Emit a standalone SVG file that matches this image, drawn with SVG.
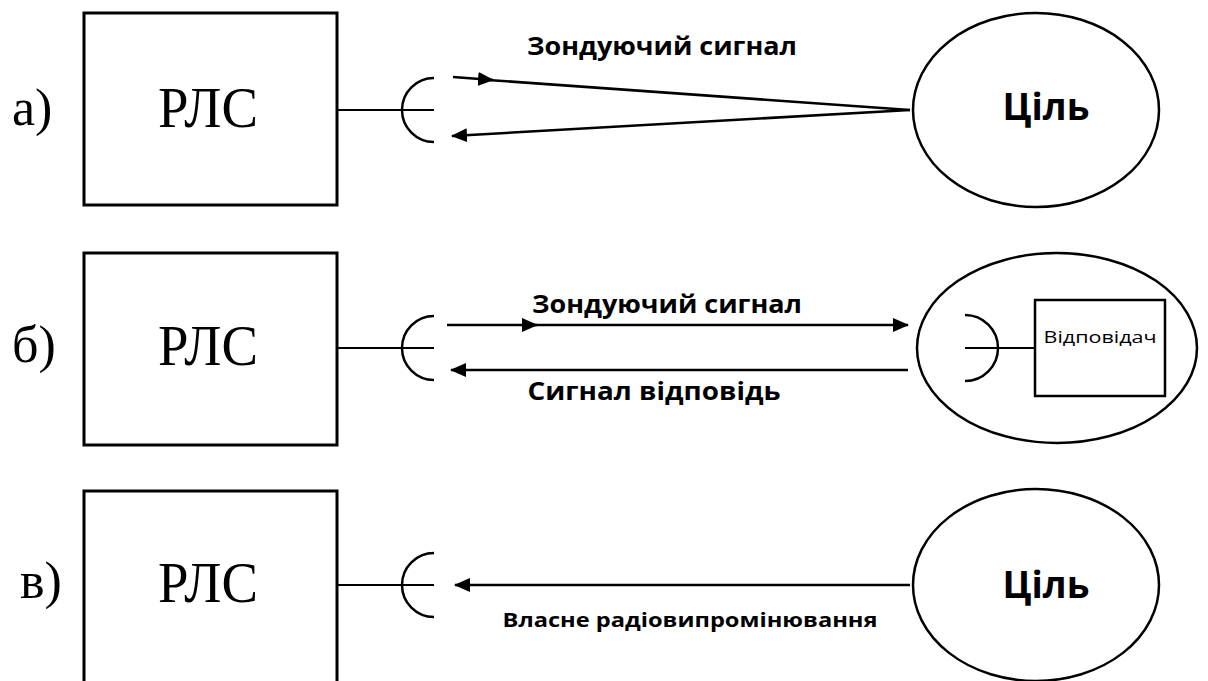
<svg xmlns="http://www.w3.org/2000/svg" width="1208" height="681" viewBox="0 0 1208 681">
<defs>
<marker id="ahe" viewBox="0 0 16 14" refX="15" refY="7" markerWidth="16" markerHeight="14" markerUnits="userSpaceOnUse" orient="auto"><path d="M0,0 L16,7 L0,14 z" fill="#000"/></marker>
</defs>
<style>
.box{fill:#fff;stroke:#000;stroke-width:3}
.ln{fill:none;stroke:#000;stroke-width:2}
.sl{fill:none;stroke:#000;stroke-width:2.6}
.ant{fill:none;stroke:#000;stroke-width:2.5}
.rls{font-family:"Liberation Serif",serif;font-size:56px;text-anchor:middle;fill:#000}
.lab{font-family:"Liberation Serif",serif;font-size:52px;fill:#000}
.sig{font-family:"Open Sans","DejaVu Sans",sans-serif;font-weight:bold;font-size:25px;text-anchor:middle;fill:#000}
.tgt{font-family:"Open Sans","DejaVu Sans",sans-serif;font-weight:bold;font-size:37px;text-anchor:middle;fill:#000}
.small{font-family:"Open Sans","DejaVu Sans",sans-serif;font-size:17px;text-anchor:middle;fill:#000}
.ell{fill:#fff;stroke:#000;stroke-width:2.5}
</style>
<rect width="1208" height="681" fill="#fff"/>
<text class="lab" x="12" y="125">а)</text>
<text class="lab" x="12" y="362">б)</text>
<text class="lab" x="20" y="598">в)</text>

<g id="rls-a"><rect class="box" x="84" y="13" width="253" height="192"/><text class="rls" x="208" y="127" textLength="100" lengthAdjust="spacingAndGlyphs">РЛС</text></g>
<g id="rls-b"><rect class="box" x="84" y="253" width="253" height="192"/><text class="rls" x="208" y="365" textLength="100" lengthAdjust="spacingAndGlyphs">РЛС</text></g>
<g id="rls-c"><rect class="box" x="84" y="491" width="253" height="195"/><text class="rls" x="208" y="602" textLength="100" lengthAdjust="spacingAndGlyphs">РЛС</text></g>

<g id="ant-a"><path class="ant" d="M434,78 A32,32 0 0 0 434,142"/></g>
<g id="ant-b"><path class="ant" d="M434,316 A32,32 0 0 0 434,380"/></g>
<g id="ant-c"><path class="ant" d="M434,553 A32,32 0 0 0 434,617"/></g>

<g id="target-a"><ellipse class="ell" cx="1036" cy="110" rx="123" ry="97"/><text class="tgt" x="1046" y="120">Ціль</text></g>
<g id="target-b"><ellipse class="ell" cx="1057" cy="348" rx="140" ry="95"/>
<path class="ant" d="M965,315 A33,33 0 0 1 965,381"/>
<line class="ln" x1="965" y1="348" x2="1035" y2="348"/>
<rect class="box" x="1035" y="300" width="130" height="96" style="stroke-width:2.5"/>
<text class="small" x="1100" y="343" textLength="113" lengthAdjust="spacingAndGlyphs">Відповідач</text></g>
<g id="target-c"><ellipse class="ell" cx="1036" cy="585" rx="123" ry="96"/><text class="tgt" x="1046" y="598">Ціль</text></g>

<g id="connectors">
<line class="ln" x1="337" y1="110" x2="434" y2="110"/>
<line class="ln" x1="337" y1="348" x2="434" y2="348"/>
<line class="ln" x1="337" y1="585" x2="434" y2="585"/>
<path class="sl" d="M453,77 L493,80" marker-end="url(#ahe)"/>
<path class="sl" d="M488,80 L910,110"/>
<path class="sl" d="M910,110 L452,136" marker-end="url(#ahe)"/>
<path class="sl" d="M447,325 L537,325" marker-end="url(#ahe)"/>
<path class="sl" d="M530,325 L908,325" marker-end="url(#ahe)"/>
<path class="sl" d="M908,370 L451,370" marker-end="url(#ahe)"/>
<path class="sl" d="M910,585 L455,585" marker-end="url(#ahe)"/>
</g>

<text class="sig" x="662" y="55" textLength="270" lengthAdjust="spacingAndGlyphs">Зондуючий сигнал</text>
<text class="sig" x="667" y="313" textLength="270" lengthAdjust="spacingAndGlyphs">Зондуючий сигнал</text>
<text class="sig" x="654" y="400" textLength="253" lengthAdjust="spacingAndGlyphs">Сигнал відповідь</text>
<text class="sig" x="690" y="627" style="font-size:20px" textLength="375" lengthAdjust="spacingAndGlyphs">Власне радіовипромінювання</text>
</svg>
